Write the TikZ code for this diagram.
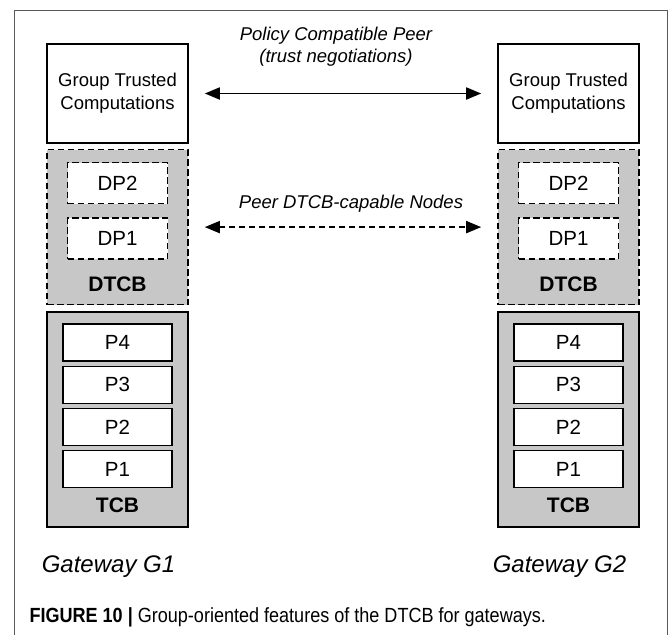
\documentclass[tikz,border=0pt]{standalone}
\usepackage{fontspec}
\setmainfont{Liberation Sans}
\newfontfamily\capfont[FakeStretch=0.88]{Liberation Sans}
\usetikzlibrary{arrows.meta,positioning}

\begin{document}
\begin{tikzpicture}[x=1pt, y=-1pt,
  frame/.style={draw=black!65, line width=1pt},
  gtcbox/.style={draw, line width=1.6pt, minimum width=141pt, minimum height=99pt,
                 align=center, font=\fontsize{18.5}{23}\selectfont},
  dtcbbox/.style={draw, dashed, dash pattern=on 6.5pt off 3.5pt, line width=1.6pt,
                  fill=black!22, minimum width=141pt, minimum height=155pt},
  dpbox/.style={draw, dashed, dash pattern=on 6.5pt off 3.5pt, line width=1.6pt,
                fill=white, minimum width=100pt, minimum height=41pt,
                font=\fontsize{20.5}{24}\selectfont},
  tcbbox/.style={draw, line width=1.6pt, fill=black!22, minimum width=141pt,
                 minimum height=215pt},
  pbox/.style={draw, line width=1.6pt, fill=white, minimum width=109pt,
               minimum height=37pt, font=\fontsize{20.5}{24}\selectfont},
  tag/.style={font=\bfseries\fontsize{21}{24}\selectfont},
  gwlabel/.style={font=\itshape\fontsize{24}{28}\selectfont},
  peerlabel/.style={align=center, font=\itshape\fontsize{18.5}{22}\selectfont},
  arrow/.style={{Triangle[length=15pt,width=12pt]}-{Triangle[length=15pt,width=12pt]},
                line width=1.8pt, shorten <=16pt, shorten >=16pt}
]
\useasboundingbox (0,0) rectangle (669,635);
\draw[frame] (14,635) -- (14,10) -- (667,10) -- (667,635);

\foreach \g/\x in {1/117.5, 2/568.5} {
  \node[gtcbox] (gtc\g) at (\x,93.5) {Group Trusted\\Computations};
  \node[dtcbbox, below=5pt of gtc\g] (dtcb\g) {};
  \node[dpbox, below=13pt of dtcb\g.north] (dptwo\g) {DP2};
  \node[dpbox, below=13pt of dptwo\g] (dpone\g) {DP1};
  \node[tag, above=10pt of dtcb\g.south] (dtcbtag\g) {DTCB};
  \node[tcbbox, below=6pt of dtcb\g] (tcb\g) {};
  \node[pbox, below=12pt of tcb\g.north] (pfour\g) {P4};
  \node[pbox, below=3.5pt of pfour\g] (pthree\g) {P3};
  \node[pbox, below=3.5pt of pthree\g] (ptwo\g) {P2};
  \node[pbox, below=3.5pt of ptwo\g] (pone\g) {P1};
  \node[tag, above=12pt of tcb\g.south] (tcbtag\g) {TCB};
  \node[gwlabel, below=24pt of tcb\g, xshift=-9pt] (gw\g) {Gateway G\g};
}

\draw[arrow] (gtc1) -- (gtc2);
\draw[arrow, dashed, dash pattern=on 6pt off 4pt] (dtcb1) -- (dtcb2);
\node[peerlabel] (policy) at (336,47) {Policy Compatible Peer\\(trust negotiations)};
\node[peerlabel] (peerdtcb) at (351,204) {Peer DTCB-capable Nodes};

\node[anchor=west, font=\capfont\fontsize{20.5}{24}\selectfont] (caption) at (26,617)
  {\textbf{FIGURE 10 |} Group-oriented features of the DTCB for gateways.};
\end{tikzpicture}
\end{document}
